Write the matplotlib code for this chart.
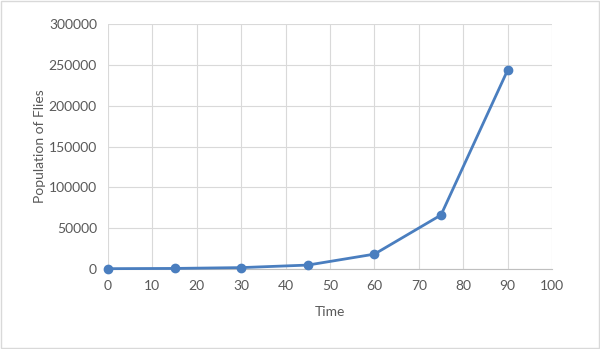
import matplotlib.pyplot as plt

time = [0, 15, 30, 45, 60, 75, 90]
flies = [500, 800, 1800, 4900, 18300, 66200, 243500]
x_ticks = [0, 10, 20, 30, 40, 50, 60, 70, 80, 90, 100]
y_ticks = [0, 50000, 100000, 150000, 200000, 250000, 300000]

plt.rcParams['font.family'] = ['Lato', 'DejaVu Sans']

fig = plt.figure(figsize=(6, 3.49), dpi=100)
ax = fig.add_axes([0.18, 0.229, 0.74, 0.702])

ax.plot(time, flies, '-o', color='#4a7ebf', linewidth=2, markersize=6, clip_on=False, zorder=3)

ax.set_xlim(0, 100)
ax.set_ylim(0, 300000)
ax.set_xticks(x_ticks)
ax.set_yticks(y_ticks)
ax.grid(True, color='#d9d9d9', linewidth=0.8)
ax.set_axisbelow(True)
for s in ['top', 'right', 'left']:
    ax.spines[s].set_visible(False)
ax.spines['bottom'].set_color('#bfbfbf')
ax.tick_params(length=0, colors='#595959', labelsize=10, pad=8)
for lbl in ax.get_xticklabels() + ax.get_yticklabels():
    lbl.set_color('#595959')

ax.set_xlabel('Time', fontsize=10, color='#595959', labelpad=10)
ax.set_ylabel('Population of Flies', fontsize=10, color='#595959', labelpad=2)

fig.patches.append(plt.Rectangle((0.001, 0.002), 0.997, 0.995, transform=fig.transFigure,
                                 fill=False, edgecolor='#d9d9d9', linewidth=1))

fig.savefig('out.png', dpi=100)
